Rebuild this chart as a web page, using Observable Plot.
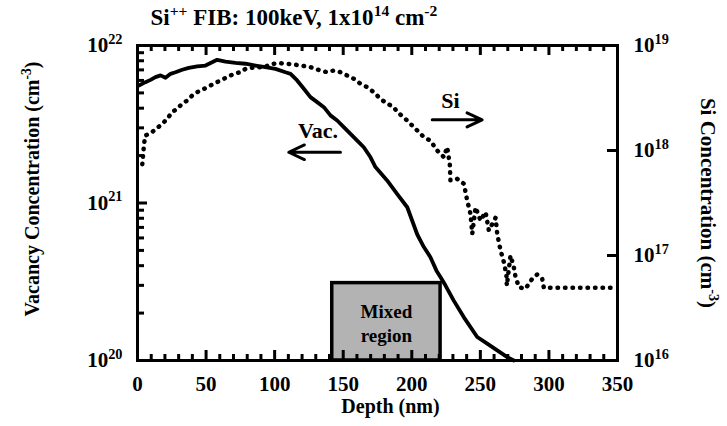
<!DOCTYPE html>
<html><head><meta charset="utf-8">
<script src="https://cdn.jsdelivr.net/npm/d3@7"></script>
<script src="https://cdn.jsdelivr.net/npm/@observablehq/plot@0.6"></script>
<style>
body{margin:0;background:#fff;}
</style></head><body><div id="wrap"></div>
<script>
// Vacancy concentration (left axis, cm^-3) vs depth (nm)
const vacDepth = [1,5.8,9.5,13.1,16.8,20.4,24.1,27.7,32.6,37.4,43.5,49.6,54.4,58.1,64.2,71.5,78.8,86,93.3,100.6,107.9,111.6,116.4,121.3,126.1,131,135.9,140.7,145.6,150.4,155.3,160.2,165,169.9,173.5,182,189.4,196.7,204,208.8,213.6,218,221,224.6,230.6,238,247.7,255,262.3,269.6,274.4];
const vacConc = [5.57e21,5.85e21,6.05e21,6.30e21,6.46e21,6.24e21,6.61e21,6.76e21,7.01e21,7.21e21,7.36e21,7.46e21,7.83e21,8.11e21,7.91e21,7.76e21,7.66e21,7.46e21,7.28e21,7.11e21,6.76e21,6.61e21,6.00e21,5.31e21,4.70e21,4.37e21,4.06e21,3.60e21,3.34e21,3.03e21,2.75e21,2.49e21,2.26e21,1.95e21,1.69e21,1.39e21,1.14e21,9.40e20,6.31e20,5.25e20,4.53e20,3.72e20,3.38e20,2.99e20,2.40e20,1.88e20,1.41e20,1.28e20,1.16e20,1.05e20,1.00e20];
// Si concentration (right axis, cm^-3) vs depth (nm)
const siDepth = [3.5,4.5,5.5,10.7,14.4,18,21.6,25.3,28.9,32.6,36.2,39.9,43.5,47.2,50.8,55.7,60.5,65.4,70.2,75.1,78.8,82.4,87.3,92.1,98.2,103,110.3,118.9,126.1,133.4,138.3,143.1,148,152.9,157.7,162.6,167.5,172.3,177.2,182.1,186.9,189.4,194.2,197.8,201.5,205.1,208.8,213.6,218.5,223.4,225.8,227.7,228.2,233.1,238,240.4,242.8,244.1,246.5,250.1,253.8,256.2,261.1,262.3,264.7,267.5,269.1,269.3,272,274.4,275.6,278.1,282.9,287.8,291.4,295.1,296.3,350];
const siConc = [7.41e17,1.05e18,1.38e18,1.50e18,1.64e18,1.79e18,2.00e18,2.32e18,2.49e18,2.79e18,2.99e18,3.34e18,3.59e18,3.78e18,4.01e18,4.32e18,4.65e18,4.99e18,5.37e18,5.57e18,6.00e18,6.12e18,6.22e18,6.22e18,6.68e18,6.79e18,6.68e18,6.46e18,6.22e18,5.78e18,5.57e18,5.78e18,5.57e18,5.18e18,4.82e18,4.32e18,4.01e18,3.59e18,3.10e18,2.79e18,2.59e18,2.32e18,2.07e18,1.86e18,1.67e18,1.50e18,1.34e18,1.24e18,1.00e18,8.65e17,1.08e18,7.46e17,5.18e17,5.37e17,4.82e17,3.34e17,2.49e17,1.61e17,2.88e17,2.15e17,2.59e17,1.73e17,2.29e17,1.61e17,1.12e17,8.32e16,6.31e16,5.18e16,1.00e17,7.74e16,6.31e16,4.99e16,4.82e16,6.00e16,6.59e16,6.00e16,4.92e16,4.92e16];

const depthTicks = [0,50,100,150,200,250,300,350];
const depthMinor = [10,20,30,40,60,70,80,90,110,120,130,140,160,170,180,190,210,220,230,240,260,270,280,290,310,320,330,340];
const vacDomain = [1e20,1e22];
const vacTicks = [1e20,1e21,1e22];
const vacTickLabels = ["10^{20}","10^{21}","10^{22}"];
const vacMinor = [2e20,3e20,4e20,5e20,6e20,7e20,8e20,9e20,2e21,3e21,4e21,5e21,6e21,7e21,8e21,9e21];
const siDomain = [1e16,1e19];
const siTicks = [1e16,1e17,1e18,1e19];
const siTickLabels = ["10^{16}","10^{17}","10^{18}","10^{19}"];
const siMajorInner = [1e17,1e18];

const mixedDepth = [142,221];
const mixedTop = 3.1e20;
const mixedLabel = "Mixed\nregion";

const title = "Si^{++} FIB: 100keV, 1x10^{14} cm^{-2}";
const xTitle = "Depth (nm)";
const yLeftTitle = "Vacancy Concentration (cm^{-3})";
const yRightTitle = "Si Concentration (cm^{-3})";

const vacNote = {label:"Vac.", d:131.6, c:2.88e21};
const vacArrowDepth = [148,110.3];
const vacArrowConc = 2.10e21;
const siNote = {label:"Si", d:228.2, c:2.96e18};
const siArrowDepth = [214.9,251.3];
const siArrowConc = 1.96e18;

// right (Si) log axis mapped onto the left (vacancy) log scale: log-to-log
const siExp = d3.scaleLog(siDomain, vacDomain.map(Math.log10));
const siToVac = s => Math.pow(10, siExp(s));

const vacData = vacDepth.map((d,i)=>({d, c: vacConc[i]}));
const siData = siDepth.map((d,i)=>({d, c: siToVac(siConc[i])}));
const siTickPos = siTicks.map(siToVac);

const W=727, H=426, ML=137, MR=110, MT=45, MB=66;
const FW = W-ML-MR, FH = H-MT-MB; // frame size in px, used for tick insets
const tk = {stroke:"black", strokeWidth:3};

const chart = Plot.plot({width:W, height:H, marginLeft:ML, marginRight:MR, marginTop:MT, marginBottom:MB,
  style:{fontFamily:"'Liberation Serif','Times New Roman',serif", fontWeight:"bold", fontSize:"21px", color:"black", background:"white", overflow:"visible"},
  x:{domain:[0,350], axis:null},
  y:{type:"log", domain:vacDomain, axis:null},
  marks:[
    Plot.rect([{x1:mixedDepth[0], x2:mixedDepth[1], y1:vacDomain[0], y2:mixedTop}], {x1:"x1",x2:"x2",y1:"y1",y2:"y2", fill:"#b3b3b3", stroke:"black", strokeWidth:3.5}),
    Plot.text([mixedLabel], {x: (mixedDepth[0]+mixedDepth[1])/2, y: 1.74e20, text:d=>d, fontSize:19, lineHeight:1.25}),
    Plot.line(siData, {x:"d", y:"c", stroke:"black", strokeWidth:4.5, strokeDasharray:"0.5,7", strokeLinecap:"round", strokeLinejoin:"round"}),
    Plot.line(vacData, {x:"d", y:"c", stroke:"black", strokeWidth:3.8, strokeLinejoin:"round"}),
    // inward ticks
    Plot.tickX(depthMinor, {x:d=>d, insetTop:FH-6, ...tk}),
    Plot.tickX(depthTicks, {x:d=>d, insetTop:FH-10, ...tk}),
    Plot.tickX(depthMinor, {x:d=>d, insetBottom:FH-6, ...tk}),
    Plot.tickX(depthTicks, {x:d=>d, insetBottom:FH-10, ...tk}),
    Plot.tickY(vacMinor, {y:d=>d, insetRight:FW-7, ...tk}),
    Plot.tickY(vacTicks, {y:d=>d, insetRight:FW-10, ...tk}),
    Plot.tickY(siMajorInner.map(siToVac), {y:d=>d, insetLeft:FW-10, ...tk}),
    Plot.frame({stroke:"black", strokeWidth:3}),
    Plot.axisX(depthTicks, {anchor:"bottom", tickSize:0, tickPadding:16, stroke:"none", label:null, tickFormat:d=>String(d), fontSize:21}),
    Plot.axisY(vacTicks, {anchor:"left", tickSize:0, tickPadding:15, stroke:"none", label:null, tickFormat:d=>vacTickLabels[vacTicks.indexOf(d)], fontSize:21}),
    Plot.axisY(siTickPos, {anchor:"right", tickSize:0, tickPadding:16, stroke:"none", label:null, tickFormat:d=>siTickLabels[siTickPos.indexOf(d)], fontSize:21}),
    Plot.text([xTitle], {frameAnchor:"bottom", dy:52, dx:13, textAnchor:"middle", text:d=>d, fontSize:20}),
    Plot.text([yLeftTitle], {frameAnchor:"left", dx:-105, dy:-14, rotate:-90, textAnchor:"middle", text:d=>d, fontSize:20}),
    Plot.text([yRightTitle], {frameAnchor:"right", dx:90, dy:0, rotate:90, textAnchor:"middle", text:d=>d, fontSize:21}),
    Plot.text([title], {frameAnchor:"top-left", dx:13, dy:-28, textAnchor:"start", lineAnchor:"middle", text:d=>d, fontSize:23}),
    Plot.text([vacNote], {x:"d", y:"c", text:"label", fontSize:22}),
    Plot.arrow([{x1:vacArrowDepth[0], x2:vacArrowDepth[1], y:vacArrowConc}], {x1:"x1", x2:"x2", y1:"y", y2:"y", strokeWidth:3, headLength:13, headAngle:50, stroke:"black"}),
    Plot.text([siNote], {x:"d", y:d=>siToVac(d.c), text:"label", fontSize:22}),
    Plot.arrow([{x1:siArrowDepth[0], x2:siArrowDepth[1], y:siToVac(siArrowConc)}], {x1:"x1", x2:"x2", y1:"y", y2:"y", strokeWidth:3, headLength:13, headAngle:50, stroke:"black"})
  ]
});

document.getElementById("wrap").appendChild(chart);

function supify(svg){
  const NS = "http://www.w3.org/2000/svg";
  svg.querySelectorAll("text").forEach(t => {
    const kids = t.querySelectorAll("tspan");
    const targets = kids.length ? [...kids] : [t];
    targets.forEach(el => {
      const s = el.textContent;
      if (!s.includes("^{")) return;
      const fs = parseFloat(getComputedStyle(t).fontSize) || 20;
      const parts = s.split(/(\^\{[^}]*\})/).filter(p => p);
      el.textContent = "";
      let raised = false;
      for (const p of parts) {
        const ts = document.createElementNS(NS, "tspan");
        if (p.startsWith("^{")) {
          ts.textContent = p.slice(2, -1);
          ts.setAttribute("font-size", (fs*0.68).toFixed(1));
          ts.setAttribute("dy", (-fs*0.4).toFixed(1));
          raised = true;
        } else {
          ts.textContent = p;
          if (raised) ts.setAttribute("dy", (fs*0.4).toFixed(1));
          raised = false;
        }
        el.appendChild(ts);
      }
    });
  });
}
supify(chart);
</script></body></html>
